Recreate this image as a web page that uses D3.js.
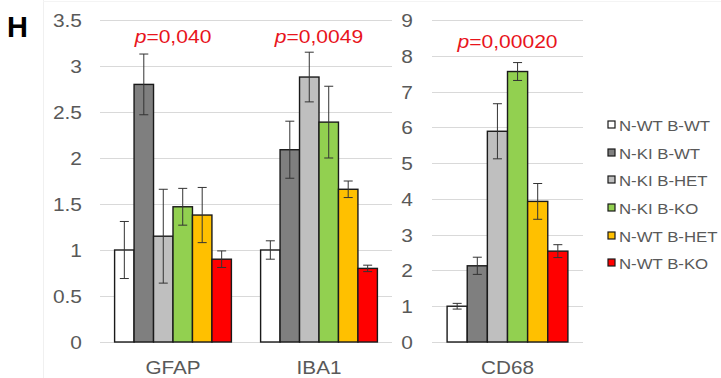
<!DOCTYPE html>
<html><head><meta charset="utf-8">
<script src="https://cdn.jsdelivr.net/npm/d3@7"></script>
<style>html,body{margin:0;padding:0;background:#fff;}svg{display:block;}</style>
</head><body>
<svg id="chart" width="721" height="378"></svg>
<script>
const groups = ["N-WT B-WT","N-KI B-WT","N-KI B-HET","N-KI B-KO","N-WT B-HET","N-WT B-KO"];
const colors = ["#ffffff","#7f7f7f","#bfbfbf","#92d050","#ffc000","#ff0000"];
const leftCategories = ["GFAP","IBA1"];
const rightCategories = ["CD68"];
const gfapMean = [1.0, 2.8, 1.15, 1.47, 1.38, 0.9];
const gfapErr  = [0.31, 0.33, 0.51, 0.2, 0.3, 0.09];
const iba1Mean = [1.0, 2.09, 2.88, 2.39, 1.66, 0.8];
const iba1Err  = [0.1, 0.31, 0.27, 0.39, 0.09, 0.035];
const cd68Mean = [1.0, 2.13, 5.89, 7.56, 3.93, 2.54];
const cd68Err  = [0.08, 0.24, 0.77, 0.25, 0.5, 0.18];
const pValues = {GFAP:"0,040", IBA1:"0,0049", CD68:"0,00020"};
const leftTicks = [0,0.5,1,1.5,2,2.5,3,3.5];
const rightTicks = [0,1,2,3,4,5,6,7,8,9];

const means = {GFAP:gfapMean, IBA1:iba1Mean, CD68:cd68Mean};
const errs = {GFAP:gfapErr, IBA1:iba1Err, CD68:cd68Err};

const svg = d3.select("#chart");
const textCol = "#595959";
const font = "'Liberation Sans', Arial, sans-serif";

function txt(g, x, y, s, size, opts={}) {
  const t = g.append("text")
    .attr("transform", `translate(${x},${y}) scale(${opts.sx||1.12},1)`)
    .attr("font-family", font).attr("font-size", size)
    .attr("fill", opts.fill || textCol)
    .attr("text-anchor", opts.anchor || "start")
    .attr("font-weight", opts.weight || "normal");
  if (typeof s === "string") t.text(s);
  return t;
}

// faint chart border
svg.append("line").attr("x1",43.5).attr("x2",43.5).attr("y1",0).attr("y2",378).attr("stroke","#f0f0f0");
svg.append("line").attr("x1",43).attr("x2",721).attr("y1",1.5).attr("y2",1.5).attr("stroke","#f4f4f4");

const yL = d3.scaleLinear().domain([0,3.5]).range([342,20]);
const yR = d3.scaleLinear().domain([0,9]).range([342,20]);
const xL = d3.scaleBand().domain(leftCategories).range([100,392]).paddingInner(0.2).paddingOuter(0.1);
const xR = d3.scaleBand().domain(rightCategories).range([432,583]).paddingInner(0.2).paddingOuter(0.1);

function panel(x, y, x0, x1, ticks, tickX, pBaselines) {
  const g = svg.append("g");
  g.selectAll("line.grid").data(ticks).join("line")
    .attr("x1", x0).attr("x2", x1)
    .attr("y1", d => Math.round(y(d))+0.5).attr("y2", d => Math.round(y(d))+0.5)
    .attr("stroke", "#d9d9d9").attr("stroke-width", 1.2);
  ticks.forEach(t => txt(g, tickX, y(t)+7, String(t), 19, {anchor:"end", sx:1.1}));
  const sub = d3.scaleBand().domain(groups).range([0, x.bandwidth()]);
  x.domain().forEach((cat, ci) => {
    const gx = x(cat);
    const m = means[cat], e = errs[cat];
    groups.forEach((grp, i) => {
      const bx = gx + sub(grp);
      g.append("rect").attr("x", bx).attr("y", y(m[i]))
        .attr("width", sub.bandwidth()).attr("height", y(0)-y(m[i]))
        .attr("fill", colors[i]).attr("stroke", "#1a1a1a").attr("stroke-width", 1.4);
    });
    groups.forEach((grp, i) => {
      const cx = gx + sub(grp) + sub.bandwidth()/2;
      const hi = y(m[i]+e[i]), lo = y(m[i]-e[i]);
      g.append("line").attr("x1",cx).attr("x2",cx).attr("y1",hi).attr("y2",lo).attr("stroke","#333").attr("stroke-width",1);
      [hi,lo].forEach(yy => g.append("line").attr("x1",cx-4.5).attr("x2",cx+4.5).attr("y1",yy).attr("y2",yy).attr("stroke","#333").attr("stroke-width",1));
    });
    txt(g, gx + x.bandwidth()/2, 374, cat, 18, {anchor:"middle", sx:1.15});
    const pt = txt(g, gx + x.bandwidth()/2, pBaselines[ci], null, 18, {anchor:"middle", sx:1.17, fill:"#e8141c"});
    pt.append("tspan").attr("font-style","italic").text("p");
    pt.append("tspan").text("=" + pValues[cat]);
  });
}

panel(xL, yL, 100, 392, leftTicks, 82, [43, 43]);
panel(xR, yR, 432, 583, rightTicks, 413, [48]);

txt(svg, 7, 37, "H", 29, {weight:"bold", fill:"#000", sx:1.0});

const legY = [125, 153, 180, 208, 236, 263];
const leg = svg.append("g");
groups.forEach((grp, i) => {
  leg.append("rect").attr("x", 608).attr("y", legY[i]-4).attr("width", 7).attr("height", 7)
    .attr("fill", colors[i]).attr("stroke", "#1a1a1a").attr("stroke-width", 1.2);
  txt(leg, 619, legY[i]+5.5, grp, 15, {sx:1.12});
});
</script>
</body></html>
